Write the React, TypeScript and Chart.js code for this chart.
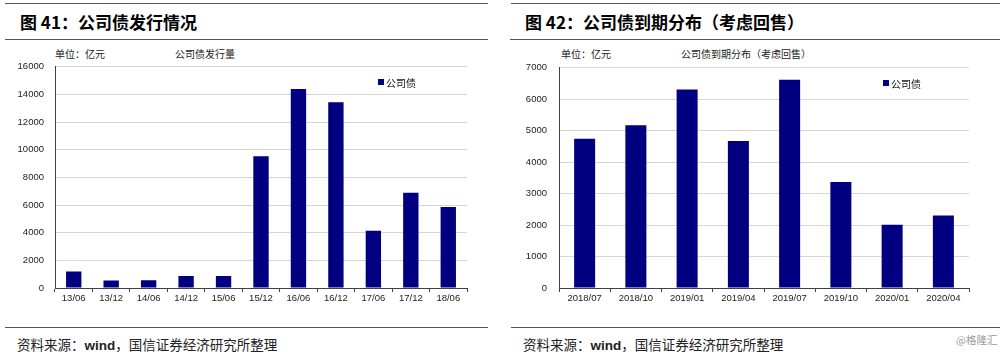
import React, { useEffect, useRef } from 'react';
import { Chart, registerables } from 'chart.js';

Chart.register(...registerables);

// ---- Data ----
const issueCategories = ['13/06', '13/12', '14/06', '14/12', '15/06', '15/12', '16/06', '16/12', '17/06', '17/12', '18/06'];
const issueValues = [1200, 550, 560, 870, 860, 9520, 14380, 13430, 4140, 6880, 5860];
const issueYTicks = [0, 2000, 4000, 6000, 8000, 10000, 12000, 14000, 16000];

const maturityCategories = ['2018/07', '2018/10', '2019/01', '2019/04', '2019/07', '2019/10', '2020/01', '2020/04'];
const maturityValues = [4740, 5170, 6310, 4670, 6620, 3370, 2010, 2300];
const maturityYTicks = [0, 1000, 2000, 3000, 4000, 5000, 6000, 7000];

const seriesName = '公司债';

const TICK_FONT = { family: "'Liberation Sans', 'Noto Sans CJK SC', sans-serif", size: 9.5 };
const CJK = "'Noto Sans CJK SC', 'Liberation Sans', sans-serif";

type BarProps = {
  labels: string[];
  values: number[];
  yTicks: number[];
  left: number;
  top: number;
  width: number;
  height: number;
  yAxisWidth: number;
  xAxisHeight: number;
  padTop: number;
  padRight: number;
  yLabelPad: number;
};

function BarChart(p: BarProps) {
  const ref = useRef<HTMLCanvasElement>(null);
  useEffect(() => {
    const step = p.yTicks[1] - p.yTicks[0];
    const chart = new Chart(ref.current as HTMLCanvasElement, {
      type: 'bar',
      data: {
        labels: p.labels,
        datasets: [
          {
            label: seriesName,
            data: p.values,
            backgroundColor: '#000080',
            borderColor: '#1c1c90',
            borderWidth: 0,
            barPercentage: 0.41,
            categoryPercentage: 1,
          },
        ],
      },
      options: {
        responsive: false,
        animation: false,
        devicePixelRatio: 1,
        layout: { padding: { top: p.padTop, right: p.padRight, left: 0, bottom: 0 } },
        plugins: { legend: { display: false }, tooltip: { enabled: false } },
        scales: {
          x: {
            grid: {
              display: true,
              drawOnChartArea: false,
              drawTicks: true,
              tickLength: 4,
              color: '#404040',
              offset: true,
            },
            border: { color: '#404040', width: 1 },
            ticks: { color: '#222', font: TICK_FONT, padding: 1, maxRotation: 0, autoSkip: false },
            afterFit: (s: any) => {
              s.height = p.xAxisHeight;
            },
          },
          y: {
            min: p.yTicks[0],
            max: p.yTicks[p.yTicks.length - 1],
            ticks: {
              stepSize: step,
              color: '#222',
              font: TICK_FONT,
              padding: p.yLabelPad,
              callback: (v: any) => String(v),
            },
            grid: { color: '#d6d6d6', drawTicks: false, lineWidth: 1 },
            border: { color: '#404040', width: 1 },
            afterFit: (s: any) => {
              s.width = p.yAxisWidth;
            },
          },
        },
      },
    });
    return () => chart.destroy();
  }, []);
  return (
    <canvas
      ref={ref}
      width={p.width}
      height={p.height}
      style={{ position: 'absolute', left: p.left, top: p.top, width: p.width, height: p.height }}
    />
  );
}

function HLine({ x1, x2, y, color = '#555', w = 1.5 }: { x1: number; x2: number; y: number; color?: string; w?: number }) {
  return <div style={{ position: 'absolute', left: x1, top: y, width: x2 - x1, height: 0, borderTop: `${w}px solid ${color}` }} />;
}

function Txt({ x, y, size, children, bold, color = '#000', family = CJK }: any) {
  return (
    <div
      style={{
        position: 'absolute',
        left: x,
        top: y - size * 0.7,
        fontSize: size,
        lineHeight: `${size * 1.4}px`,
        fontWeight: bold ? 700 : 400,
        color,
        fontFamily: family,
        whiteSpace: 'nowrap',
      }}
    >
      {children}
    </div>
  );
}

function Legend({ x, y }: { x: number; y: number }) {
  return (
    <div style={{ position: 'absolute', left: x, top: y - 7, height: 14, display: 'flex', alignItems: 'center', fontFamily: CJK, fontSize: 10, color: '#111' }}>
      <span style={{ display: 'inline-block', width: 6, height: 6, background: '#000080', marginRight: 2 }} />
      <span>{seriesName}</span>
    </div>
  );
}

export default function App() {
  return (
    <div style={{ position: 'absolute', left: 0, top: 0, width: 1000, height: 352, background: '#fff', overflow: 'hidden' }}>
      {/* Left panel */}
      <HLine x1={5} x2={488} y={3} />
      <Txt x={20} y={22} size={17} bold>图 41：公司债发行情况</Txt>
      <HLine x1={5} x2={488} y={39} />
      <Txt x={55} y={54} size={10} color="#222">单位：亿元</Txt>
      <Txt x={175} y={54} size={10} color="#222">公司债发行量</Txt>
      <BarChart
        labels={issueCategories}
        values={issueValues}
        yTicks={issueYTicks}
        left={0}
        top={50}
        width={490}
        height={260}
        yAxisWidth={55}
        xAxisHeight={22}
        padTop={14}
        padRight={23}
        yLabelPad={11}
      />
      <Legend x={378} y={82} />
      <HLine x1={5} x2={488} y={327} />
      <Txt x={17} y={344} size={13.5} color="#222">资料来源：<b style={{ fontFamily: "'Liberation Sans', sans-serif" }}>wind</b>，国信证券经济研究所整理</Txt>

      {/* Right panel */}
      <HLine x1={511} x2={1000} y={3} />
      <Txt x={525} y={22} size={17} bold>图 42：公司债到期分布（考虑回售）</Txt>
      <HLine x1={510} x2={1000} y={39} />
      <Txt x={561} y={54} size={10} color="#222">单位：亿元</Txt>
      <Txt x={681} y={54} size={10} color="#222">公司债到期分布（考虑回售）</Txt>
      <BarChart
        labels={maturityCategories}
        values={maturityValues}
        yTicks={maturityYTicks}
        left={500}
        top={50}
        width={500}
        height={260}
        yAxisWidth={59}
        xAxisHeight={22}
        padTop={14}
        padRight={31}
        yLabelPad={12}
      />
      <Legend x={883} y={83} />
      <HLine x1={511} x2={1000} y={327} />
      <Txt x={523} y={344} size={13.5} color="#222">资料来源：<b style={{ fontFamily: "'Liberation Sans', sans-serif" }}>wind</b>，国信证券经济研究所整理</Txt>
      <Txt x={956} y={340} size={10.5} color="#999">@格隆汇</Txt>
    </div>
  );
}
